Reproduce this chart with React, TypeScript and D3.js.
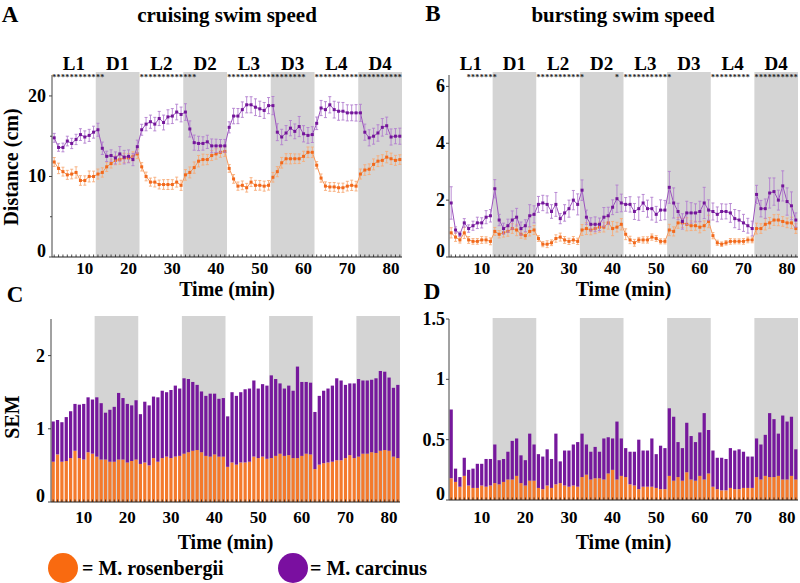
import React from 'react';
import * as d3 from 'd3';

const minutes = d3.range(3, 83);
const periodEdges = [2.5, 12.5, 22.5, 32.5, 42.5, 52.5, 62.5, 72.5, 82.5];
const periodLabels = ['L1', 'D1', 'L2', 'D2', 'L3', 'D3', 'L4', 'D4'];
const xTicks = [10, 20, 30, 40, 50, 60, 70, 80];

// Panel A: cruising swim speed (cm)
const cruiseCarcinus = [
  14.8, 13.6, 13.6, 14.4, 14.1, 14.6, 15.2, 14.9, 15.1, 15.5,
  15.8, 13.5, 12.5, 12.6, 12.3, 12.8, 12.4, 12.5, 12.1, 13.7,
  15.8, 16.5, 16.8, 16.5, 17.2, 16.7, 17.4, 17.5, 18.0, 17.7,
  18.0, 15.9, 14.2, 14.1, 14.1, 14.3, 13.8, 13.8, 13.8, 13.8,
  16.1, 17.5, 17.5, 18.3, 18.9, 18.9, 18.6, 18.4, 18.2, 18.8,
  18.8, 15.5, 14.9, 15.4, 16.0, 15.6, 16.2, 15.3, 15.1, 15.2,
  16.6, 18.5, 18.3, 18.9, 18.3, 18.1, 18.1, 17.9, 17.9, 17.9,
  17.9, 15.5, 14.8, 15.0, 15.4, 16.1, 16.3, 14.9, 15.0, 15.0,
];
const cruiseRosenbergii = [
  11.8, 11.0, 10.6, 10.2, 10.3, 10.5, 9.5, 9.5, 10.0, 10.0,
  10.3, 10.5, 11.2, 11.6, 12.0, 12.1, 12.3, 12.3, 12.5, 12.8,
  11.2, 10.0, 9.3, 9.3, 9.0, 9.0, 9.0, 9.0, 9.3, 8.9,
  10.2, 10.5, 11.1, 11.9, 12.1, 12.1, 12.6, 12.8, 13.0, 13.1,
  11.0, 9.7, 8.8, 8.9, 8.6, 9.3, 8.9, 8.9, 8.8, 8.9,
  9.9, 10.6, 11.7, 12.2, 12.2, 12.2, 12.2, 12.5, 13.0, 13.0,
  11.4, 9.8, 8.8, 8.7, 8.7, 8.6, 8.6, 8.8, 8.9, 8.8,
  10.3, 10.8, 10.9, 11.5, 11.9, 12.0, 12.4, 12.2, 12.0, 12.1,
];

// Panel B: bursting swim speed (cm)
const burstCarcinus = [
  1.9, 0.95, 0.8, 1.2, 1.0, 1.1, 1.2, 1.2, 1.4, 1.45,
  2.4, 1.3, 1.0, 1.1, 1.3, 1.4, 1.0, 1.1, 1.45, 1.5,
  1.85, 1.9, 1.85, 1.6, 1.85, 1.35, 1.55, 1.7, 2.0, 1.85,
  2.35, 1.4, 1.15, 1.15, 1.15, 1.4, 1.45, 1.75, 2.05, 1.9,
  1.85, 1.85, 1.6, 1.7, 1.9, 1.7, 1.7, 1.5, 1.65, 1.65,
  2.45, 1.9, 1.6, 1.25, 1.55, 1.55, 1.55, 1.6, 1.9, 1.65,
  1.6, 1.5, 1.6, 1.6, 1.55, 1.35, 1.3, 1.2, 1.1, 1.0,
  2.2, 1.7, 1.7, 2.25, 2.3, 2.0, 2.5, 1.95, 1.8, 1.3,
];
const burstRosenbergii = [
  0.85, 0.7, 0.6, 0.85, 0.6, 0.55, 0.55, 0.6, 0.6, 0.55,
  0.9, 0.8, 0.85, 0.9, 1.0, 0.95, 0.8, 0.75, 0.9, 0.95,
  0.65, 0.45, 0.45, 0.5, 0.65, 0.7, 0.6, 0.55, 0.6, 0.55,
  0.95, 1.0, 0.95, 1.0, 1.05, 1.05, 1.2, 1.0, 1.05, 1.15,
  0.8, 0.6, 0.5, 0.6, 0.6, 0.6, 0.7, 0.65, 0.55, 0.55,
  0.95, 0.9, 1.2, 1.2, 1.15, 1.1, 1.1, 1.05, 1.1, 1.25,
  0.75, 0.5, 0.45, 0.5, 0.55, 0.55, 0.55, 0.55, 0.6, 0.6,
  1.0, 1.0, 1.15, 1.2, 1.3, 1.3, 1.25, 1.2, 1.2, 1.0,
];

// Panel C: SEM of cruising speed
const semCruiseRos = [
  0.55, 0.65, 0.55, 0.56, 0.60, 0.70, 0.60, 0.58, 0.68, 0.66,
  0.62, 0.58, 0.58, 0.55, 0.55, 0.58, 0.58, 0.54, 0.56, 0.58,
  0.52, 0.54, 0.50, 0.60, 0.55, 0.60, 0.62, 0.60, 0.62, 0.63,
  0.66, 0.68, 0.70, 0.71, 0.68, 0.63, 0.62, 0.65, 0.62, 0.62,
  0.48, 0.54, 0.51, 0.54, 0.54, 0.55, 0.62, 0.60, 0.62, 0.59,
  0.60, 0.63, 0.66, 0.63, 0.64, 0.60, 0.60, 0.63, 0.66, 0.65,
  0.45, 0.51, 0.53, 0.54, 0.55, 0.57, 0.57, 0.60, 0.64, 0.60,
  0.62, 0.66, 0.66, 0.68, 0.67, 0.70, 0.71, 0.70, 0.62, 0.60,
];
const semCruiseCar = [
  0.55, 0.47, 0.54, 0.60, 0.64, 0.64, 0.73, 0.76, 0.75, 0.74,
  0.81, 0.77, 0.64, 0.71, 0.75, 0.91, 0.84, 0.80, 0.76, 0.81,
  0.68, 0.83, 0.82, 0.84, 0.88, 0.92, 0.88, 0.93, 0.97, 0.92,
  1.03, 1.00, 0.94, 0.89, 0.83, 0.82, 0.86, 0.83, 0.79, 0.80,
  0.69, 0.96, 0.94, 0.96, 1.00, 1.00, 1.04, 0.95, 0.99, 1.00,
  1.13, 1.05, 0.96, 0.92, 0.95, 0.92, 1.25, 1.01, 0.98, 0.98,
  0.78, 0.94, 0.99, 1.01, 1.04, 1.12, 1.09, 1.00, 0.98, 1.02,
  1.06, 1.00, 1.00, 0.99, 1.02, 1.09, 1.07, 1.00, 0.94, 1.00,
];

// Panel D: SEM of bursting speed
const semBurstRos = [
  0.18, 0.15, 0.11, 0.20, 0.12, 0.10, 0.10, 0.12, 0.11, 0.12,
  0.14, 0.13, 0.15, 0.17, 0.17, 0.20, 0.14, 0.12, 0.16, 0.16,
  0.10, 0.09, 0.12, 0.10, 0.13, 0.14, 0.12, 0.11, 0.12, 0.11,
  0.19, 0.21, 0.17, 0.18, 0.18, 0.17, 0.22, 0.25, 0.17, 0.20,
  0.19, 0.13, 0.12, 0.09, 0.11, 0.11, 0.11, 0.10, 0.09, 0.09,
  0.20, 0.16, 0.19, 0.16, 0.23, 0.17, 0.16, 0.20, 0.17, 0.22,
  0.11, 0.09, 0.08, 0.08, 0.10, 0.09, 0.09, 0.10, 0.10, 0.10,
  0.19, 0.17, 0.20, 0.19, 0.19, 0.20, 0.17, 0.17, 0.20, 0.17,
];
const semBurstCar = [
  0.57, 0.11, 0.08, 0.15, 0.13, 0.16, 0.20, 0.18, 0.23, 0.22,
  0.32, 0.20, 0.19, 0.23, 0.32, 0.31, 0.23, 0.21, 0.39, 0.30,
  0.28, 0.27, 0.30, 0.24, 0.42, 0.18, 0.29, 0.30, 0.34, 0.37,
  0.36, 0.25, 0.23, 0.26, 0.22, 0.34, 0.30, 0.26, 0.48, 0.31,
  0.24, 0.27, 0.28, 0.41, 0.30, 0.30, 0.40, 0.28, 0.36, 0.34,
  0.56, 0.53, 0.29, 0.27, 0.41, 0.36, 0.32, 0.36, 0.55, 0.36,
  0.30, 0.26, 0.27, 0.26, 0.33, 0.32, 0.33, 0.30, 0.26, 0.26,
  0.32, 0.29, 0.34, 0.53, 0.48, 0.35, 0.53, 0.48, 0.49, 0.25,
];

// significance marks (minute ranges)
const sigCruiseRanges = [[3, 14], [23, 35], [43, 60], [63, 82]];
const sigBurstRanges = [[7, 13], [23, 33], [41, 41], [43, 53], [63, 71], [73, 82]];

const FONT = "'Liberation Serif', 'Times New Roman', serif";
const PURPLE = '#74169a';
const PURPLE_LINE = '#9b52bd';
const PURPLE_ERR = '#b27fcf';
const ORANGE = '#f2691c';
const ORANGE_LINE = '#f5995c';
const ORANGE_ERR = '#f7ab78';
const SHADE = '#d4d4d4';
const BAR_PURPLE = '#76189c';
const BAR_ORANGE = '#f47a2c';

type Box = { x0: number; x1: number; yTop: number; yBot: number; shadeTop: number };

function expand(ranges: number[][]) {
  const out: number[] = [];
  ranges.forEach(([a, b]) => d3.range(a, b + 1).forEach((m) => out.push(m)));
  return out;
}

function Shading({ x, box }: { x: d3.ScaleLinear<number, number>; box: Box }) {
  return (
    <g>
      {periodLabels.map((p, i) =>
        p.startsWith('D') ? (
          <rect key={p} x={x(periodEdges[i])} y={box.shadeTop} width={x(periodEdges[i + 1]) - x(periodEdges[i])}
            height={box.yBot - box.shadeTop} fill={SHADE} />
        ) : null
      )}
    </g>
  );
}

function XAxis({ x, box, labelY, titleY, titleX }: { x: d3.ScaleLinear<number, number>; box: Box; labelY: number; titleY: number; titleX: number }) {
  return (
    <g>
      <line x1={box.x0} x2={box.x1} y1={box.yBot} y2={box.yBot} stroke="#222" strokeWidth={1.2} />
      {minutes.map((m) => (
        <line key={m} x1={x(m)} x2={x(m)} y1={box.yBot} y2={box.yBot - 2.5} stroke="#222" strokeWidth={0.8} />
      ))}
      {xTicks.map((t) => (
        <text key={t} x={x(t)} y={labelY} textAnchor="middle" dominantBaseline="central"
          fontFamily={FONT} fontWeight="bold" fontSize={17}>{t}</text>
      ))}
      <text x={titleX} y={titleY} textAnchor="middle" dominantBaseline="central"
        fontFamily={FONT} fontWeight="bold" fontSize={20}>Time (min)</text>
    </g>
  );
}

function YAxis({ y, box, major, minor, fmt, gap }: { y: d3.ScaleLinear<number, number>; box: Box; major: number[]; minor: number[]; fmt: (v: number) => string; gap: number }) {
  return (
    <g>
      <line x1={box.x0} x2={box.x0} y1={box.yTop} y2={box.yBot} stroke="#444" strokeWidth={1} />
      {major.map((v) => (
        <g key={'M' + v}>
          <line x1={box.x0 - 3} x2={box.x0} y1={y(v)} y2={y(v)} stroke="#444" />
          <text x={box.x0 - gap} y={y(v) - (v === 0 ? 6 : 0)} textAnchor="end" dominantBaseline="central"
            fontFamily={FONT} fontWeight="bold" fontSize={18}>{fmt(v)}</text>
        </g>
      ))}
      {minor.map((v) => (
        <line key={'m' + v} x1={box.x0 - 2} x2={box.x0} y1={y(v)} y2={y(v)} stroke="#444" />
      ))}
    </g>
  );
}

function Series({ x, y, vals, sem, line, err, dot }: { x: d3.ScaleLinear<number, number>; y: d3.ScaleLinear<number, number>; vals: number[]; sem: number[]; line: string; err: string; dot: string }) {
  const gen = d3.line<number>().x((_, i) => x(minutes[i])).y((v) => y(v));
  return (
    <g>
      <path d={gen(vals) || ''} fill="none" stroke={line} strokeWidth={1} />
      {vals.map((v, i) => {
        const cx = x(minutes[i]);
        const lo = y(v - sem[i]);
        const hi = y(v + sem[i]);
        return (
          <g key={i}>
            <line x1={cx} x2={cx} y1={lo} y2={hi} stroke={err} strokeWidth={0.9} />
            <line x1={cx - 1.5} x2={cx + 1.5} y1={lo} y2={lo} stroke={err} strokeWidth={0.9} />
            <line x1={cx - 1.5} x2={cx + 1.5} y1={hi} y2={hi} stroke={err} strokeWidth={0.9} />
          </g>
        );
      })}
      {vals.map((v, i) => (
        <rect key={'d' + i} x={x(minutes[i]) - 1.5} y={y(v) - 1.5} width={3} height={3} fill={dot} />
      ))}
    </g>
  );
}

function LinePanel({ box, yMax, major, minor, carc, ros, semC, semR, sig, gap }: any) {
  const x = d3.scaleLinear().domain([2.5, 82.5]).range([box.x0, box.x1]);
  const y = d3.scaleLinear().domain([0, yMax]).range([box.yBot, box.yTop]);
  const sigMins = expand(sig);
  return (
    <g>
      <Shading x={x} box={box} />
      {periodLabels.map((p, i) => (
        <text key={p} x={x((periodEdges[i] + periodEdges[i + 1]) / 2)} y={63} textAnchor="middle" dominantBaseline="central"
          fontFamily={FONT} fontWeight="bold" fontSize={19}>{p}</text>
      ))}
      {sigMins.map((m) => (
        <text key={m} x={x(m)} y={80} textAnchor="middle" fontFamily={FONT} fontWeight="bold" fontSize={8} fill="#222">*</text>
      ))}
      <Series x={x} y={y} vals={ros} sem={semR} line={ORANGE_LINE} err={ORANGE_ERR} dot={ORANGE} />
      <Series x={x} y={y} vals={carc} sem={semC} line={PURPLE_LINE} err={PURPLE_ERR} dot={PURPLE} />
      <YAxis y={y} box={box} major={major} minor={minor} fmt={(v: number) => String(v)} gap={gap} />
      <XAxis x={x} box={box} labelY={268} titleY={289} titleX={(box.x0 + box.x1) / 2} />
    </g>
  );
}

function BarPanel({ box, yMax, major, fmt, ros, car, gap }: any) {
  const x = d3.scaleLinear().domain([2.5, 82.5]).range([box.x0, box.x1]);
  const y = d3.scaleLinear().domain([0, yMax]).range([box.yBot, box.yTop]);
  const step = x(4) - x(3);
  const bw = step * 0.74;
  return (
    <g>
      <Shading x={x} box={box} />
      {minutes.map((m, i) => (
        <g key={m}>
          <rect x={x(m) - bw / 2} y={y(ros[i])} width={bw} height={y(0) - y(ros[i])} fill={BAR_ORANGE} />
          <rect x={x(m) - bw / 2} y={y(ros[i] + car[i])} width={bw} height={y(ros[i]) - y(ros[i] + car[i])} fill={BAR_PURPLE} />
        </g>
      ))}
      <YAxis y={y} box={box} major={major} minor={[]} fmt={fmt} gap={gap} />
      <XAxis x={x} box={box} labelY={517} titleY={542} titleX={(box.x0 + box.x1) / 2} />
    </g>
  );
}

export default function App() {
  const boxA: Box = { x0: 52, x1: 402, yTop: 75, yBot: 257, shadeTop: 72 };
  const boxB: Box = { x0: 449, x1: 798, yTop: 75, yBot: 257, shadeTop: 72 };
  const boxC: Box = { x0: 51, x1: 400, yTop: 319, yBot: 502, shadeTop: 316 };
  const boxD: Box = { x0: 449, x1: 798, yTop: 319, yBot: 500, shadeTop: 318 };
  const txt = { fontFamily: FONT, fontWeight: 'bold' as const };
  return (
    <svg width={800} height={583} style={{ position: 'absolute', left: 0, top: 0, background: '#fff' }}>
      <rect x={0} y={0} width={800} height={583} fill="#fff" />
      <text x={10} y={14} textAnchor="middle" dominantBaseline="central" {...txt} fontSize={23}>A</text>
      <text x={433} y={13} textAnchor="middle" dominantBaseline="central" {...txt} fontSize={23}>B</text>
      <text x={15} y={294} textAnchor="middle" dominantBaseline="central" {...txt} fontSize={23}>C</text>
      <text x={432} y={291} textAnchor="middle" dominantBaseline="central" {...txt} fontSize={23}>D</text>
      <text x={227} y={15} textAnchor="middle" dominantBaseline="central" {...txt} fontSize={21}>cruising swim speed</text>
      <text x={623} y={15} textAnchor="middle" dominantBaseline="central" {...txt} fontSize={21}>bursting swim speed</text>
      <text transform="translate(11,167) rotate(-90)" textAnchor="middle" dominantBaseline="central" {...txt} fontSize={20}>Distance (cm)</text>
      <text transform="translate(12,417) rotate(-90)" textAnchor="middle" dominantBaseline="central" {...txt} fontSize={20}>SEM</text>

      <LinePanel box={boxA} yMax={22.6} major={[0, 10, 20]} minor={[5, 15]} carc={cruiseCarcinus} ros={cruiseRosenbergii}
        semC={semCruiseCar} semR={semCruiseRos} sig={sigCruiseRanges} gap={6} />
      <LinePanel box={boxB} yMax={6.4} major={[0, 2, 4, 6]} minor={[]} carc={burstCarcinus} ros={burstRosenbergii}
        semC={semBurstCar} semR={semBurstRos} sig={sigBurstRanges} gap={4} />
      <BarPanel box={boxC} yMax={2.5} major={[0, 1, 2]} fmt={(v: number) => String(v)} ros={semCruiseRos} car={semCruiseCar} gap={6} />
      <BarPanel box={boxD} yMax={1.5} major={[0, 0.5, 1, 1.5]} fmt={(v: number) => String(v)} ros={semBurstRos} car={semBurstCar} gap={4} />

      <circle cx={63} cy={568} r={15} fill="#f96a10" />
      <text x={82} y={568} dominantBaseline="central" {...txt} fontSize={20}>= M. rosenbergii</text>
      <circle cx={293} cy={568} r={15} fill="#7a0fa0" />
      <text x={310} y={568} dominantBaseline="central" {...txt} fontSize={20}>= M. carcinus</text>
    </svg>
  );
}
